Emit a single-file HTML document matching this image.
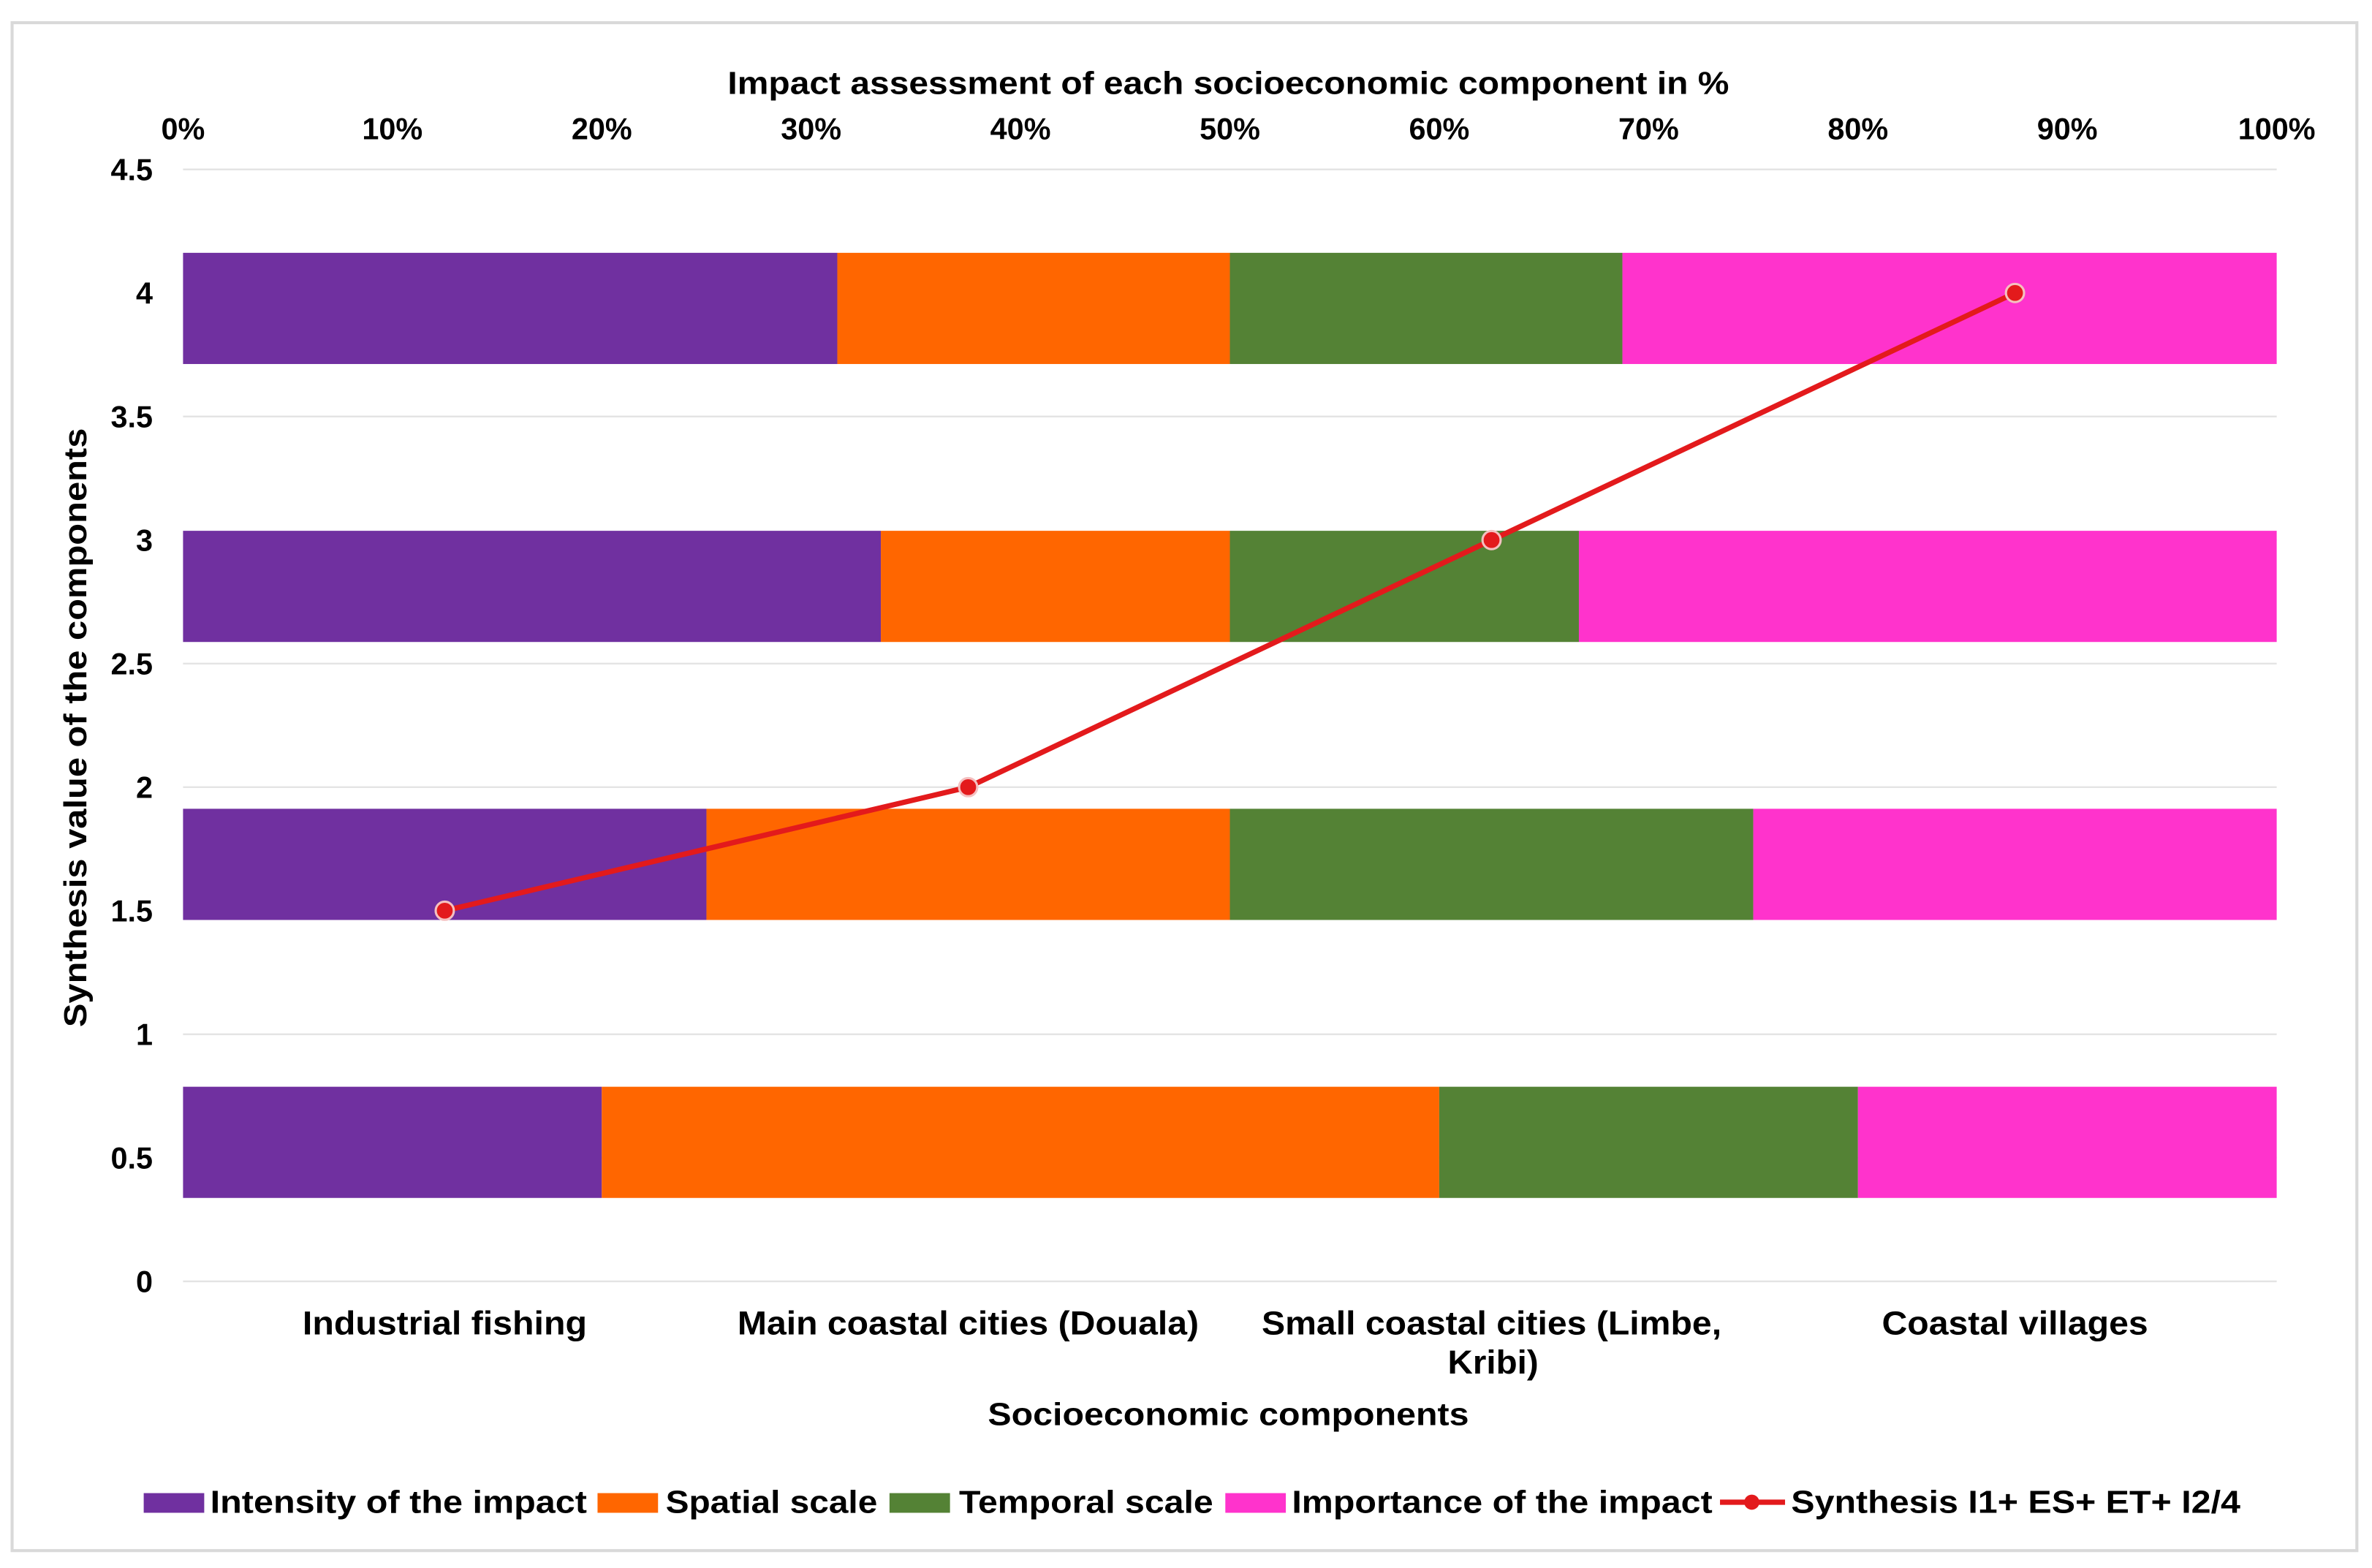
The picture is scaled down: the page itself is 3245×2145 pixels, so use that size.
<!DOCTYPE html>
<html><head><meta charset="utf-8"><style>
html,body{margin:0;padding:0;background:#fff;}
svg{display:block;}
text{font-family:"Liberation Sans",Arial,sans-serif;font-weight:bold;fill:#000;}
</style></head><body>
<svg id="chart" width="3245" height="2145" viewBox="0 0 1568 1036.5" preserveAspectRatio="none" xmlns="http://www.w3.org/2000/svg">
<rect x="8" y="15" width="1550" height="1010" fill="#fff" stroke="#d9d9d9" stroke-width="2"/>
<g id="grid"></g>
<g id="bars"></g>
<g id="line"></g>
<g id="axes"></g>
<text x="812" y="62" font-size="21" text-anchor="middle" textLength="662" lengthAdjust="spacingAndGlyphs">Impact assessment of each socioeconomic component in %</text>
<text transform="translate(57,481) rotate(-90)" font-size="21" text-anchor="middle" textLength="396" lengthAdjust="spacingAndGlyphs">Synthesis  value of the components</text>
<text x="812" y="942" font-size="21" text-anchor="middle" textLength="318" lengthAdjust="spacingAndGlyphs">Socioeconomic components</text>
<g id="legend">
<rect x="95" y="987" width="40" height="13" fill="#7030a0"/>
<text x="139" y="1000" font-size="21" textLength="249" lengthAdjust="spacingAndGlyphs">Intensity of the impact</text>
<rect x="395" y="987" width="40" height="13" fill="#ff6600"/>
<text x="440" y="1000" font-size="21" textLength="140" lengthAdjust="spacingAndGlyphs">Spatial scale</text>
<rect x="588" y="987" width="40" height="13" fill="#548235"/>
<text x="634" y="1000" font-size="21" textLength="168" lengthAdjust="spacingAndGlyphs">Temporal scale</text>
<rect x="810" y="987" width="40" height="13" fill="#ff33cc"/>
<text x="854" y="1000" font-size="21" textLength="278" lengthAdjust="spacingAndGlyphs">Importance of the impact</text>
<line x1="1137" y1="993" x2="1180" y2="993" stroke="#e31a1c" stroke-width="3.5"/>
<circle cx="1158" cy="993" r="5" fill="#e31a1c"/>
<text x="1184" y="1000" font-size="21" textLength="297" lengthAdjust="spacingAndGlyphs">Synthesis I1+ ES+ ET+ I2/4</text>
</g>
</svg>
<script>
const categories = ["Industrial fishing", "Main coastal cities (Douala)", "Small coastal cities (Limbe, Kribi)", "Coastal villages"];
const intensity = [20, 25, 33.33, 31.25];
const spatial = [40, 25, 16.67, 18.75];
const temporal = [20, 25, 16.67, 18.75];
const importance = [20, 25, 33.33, 31.25];
const synthesis = [1.5, 2, 3, 4];
const yTicks = [0, 0.5, 1, 1.5, 2, 2.5, 3, 3.5, 4, 4.5];
const pctTicks = [0, 10, 20, 30, 40, 50, 60, 70, 80, 90, 100];

const NS = "http://www.w3.org/2000/svg";
const X0 = 121, X1 = 1505, Y0 = 847, Y1 = 112, YMAX = 4.5;
function xPct(p){ return X0 + (X1 - X0) * p / 100; }
function yVal(v){ return Y0 - (Y0 - Y1) * v / YMAX; }
function xCat(i){ return X0 + (X1 - X0) * (i + 0.5) / categories.length; }
function mk(tag, attrs, parent){ const e = document.createElementNS(NS, tag); for (const k in attrs) e.setAttribute(k, attrs[k]); parent.appendChild(e); return e; }

const grid = document.getElementById("grid");
const axes = document.getElementById("axes");
yTicks.forEach(t => {
  const g = mk("line", {x1: X0, x2: X1, y1: yVal(t), y2: yVal(t), stroke: "#e4e4e4", "stroke-width": 1.2}, grid);
  
  
  const l = mk("text", {x: 101, y: yVal(t) + 7, "font-size": 20, "text-anchor": "end"}, axes);
  l.textContent = String(t);
  
  
});
pctTicks.forEach(p => {
  const l = mk("text", {x: xPct(p), y: 92, "font-size": 20, "text-anchor": "middle"}, axes);
  l.textContent = p + "%";
  
  
});
const labelWidths = {"Industrial fishing": 188, "Main coastal cities (Douala)": 305, "Small coastal cities (Limbe,": 304, "Kribi)": 60, "Coastal villages": 176};
function catLabel(txt, cx, y){
  const l = mk("text", {x: cx, y: y, "font-size": 22, "text-anchor": "middle", textLength: labelWidths[txt], lengthAdjust: "spacingAndGlyphs"}, axes);
  l.textContent = txt;
  
  
}
categories.forEach((c, i) => {
  const cx = xCat(i);
  if (c.indexOf("Limbe") >= 0) {
    catLabel("Small coastal cities (Limbe,", cx, 882);
    catLabel("Kribi)", cx + 1, 908);
  } else {
    catLabel(c, cx, 882);
  }
});

const bars = document.getElementById("bars");
const series = [[intensity, "#7030a0", "intensity"], [spatial, "#ff6600", "spatial"], [temporal, "#548235", "temporal"], [importance, "#ff33cc", "importance"]];
const band = YMAX / categories.length;
categories.forEach((c, i) => {
  const center = (i + 0.5) * band;
  const yTop = yVal(center + band * 0.2), yBot = yVal(center - band * 0.2);
  let acc = 0;
  series.forEach(([vals, col, nm]) => {
    const r = mk("rect", {x: xPct(acc), y: yTop, width: xPct(acc + vals[i]) - xPct(acc), height: yBot - yTop, fill: col}, bars);
    
    
    acc += vals[i];
  });
});

const lg = document.getElementById("line");
const pts = synthesis.map((v, i) => xCat(i) + "," + yVal(v)).join(" ");
const pl = mk("polyline", {points: pts, fill: "none", stroke: "#e31a1c", "stroke-width": 3.5}, lg);


synthesis.forEach((v, i) => {
  const c = mk("circle", {cx: xCat(i), cy: yVal(v), r: 6, fill: "#e31a1c", stroke: "#f4c0c0", "stroke-width": 1.5}, lg);
  
  
});
</script>
</body></html>
